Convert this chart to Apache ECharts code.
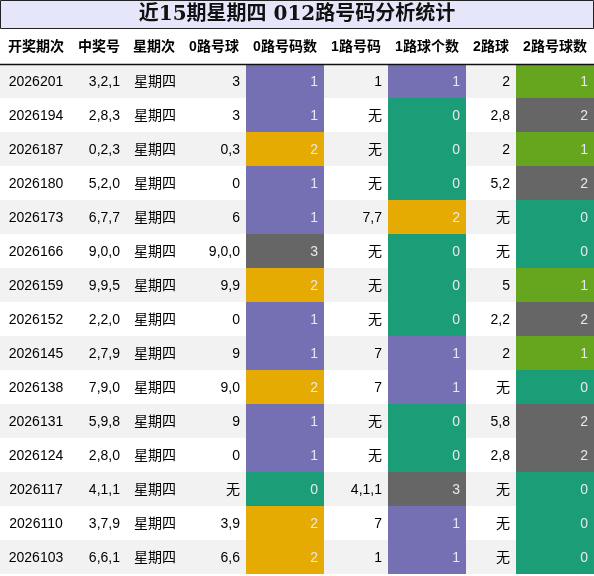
<!DOCTYPE html>
<html><head><meta charset="utf-8">
<script src="https://cdn.jsdelivr.net/npm/echarts@6/dist/echarts.min.js"></script>
<style>html,body{margin:0;padding:0;background:#fff}#c{width:594px;height:576px}</style>
</head><body><div id="c"></div>
<script>
const title = '近15期星期四 012路号码分析统计';
const headers = ['开奖期次','中奖号','星期次','0路号球','0路号码数','1路号码','1路球个数','2路球','2路号球数'];
const periods = ['2026201','2026194','2026187','2026180','2026173','2026166','2026159','2026152','2026145','2026138','2026131','2026124','2026117','2026110','2026103'];
const numbers = ['3,2,1','2,8,3','0,2,3','5,2,0','6,7,7','9,0,0','9,9,5','2,2,0','2,7,9','7,9,0','5,9,8','2,8,0','4,1,1','3,7,9','6,6,1'];
const weekday = '星期四';
const road0 = ['3','3','0,3','0','6','9,0,0','9,9','0','9','9,0','9','0','无','3,9','6,6'];
const road0Count = [1,1,2,1,1,3,2,1,1,2,1,1,0,2,2];
const road1 = ['1','无','无','无','7,7','无','无','无','7','7','无','无','4,1,1','7','1'];
const road1Count = [1,0,0,0,2,0,0,0,1,1,0,0,3,1,1];
const road2 = ['2','2,8','2','5,2','无','无','5','2,2','2','无','5,8','2,8','无','无','无'];
const road2Count = [1,2,1,2,0,0,1,2,1,0,2,2,0,0,0];

// layout
const colEdges = [0,72,126,182,246,324,388,466,516,594];
const colAlign = ['center','right','left','right','right','right','right','right','right'];
const countColorsA = ['#1b9e77','#7570b3','#e6ab02','#666666'];
const countColorsB = ['#1b9e77','#66a61e','#666666','#666666'];

const cells = [];
headers.forEach((h,c)=>cells.push({value:[c,0], text:h, header:true}));
for (let r=0;r<periods.length;r++){
  const row=[periods[r],numbers[r],weekday,road0[r],road0Count[r],road1[r],road1Count[r],road2[r],road2Count[r]];
  row.forEach((v,c)=>{
    let fill = (r%2===0)?'#f2f2f2':'#ffffff', color='#000';
    if (c===4) {fill=countColorsA[v]; color='#e8e8f0';}
    if (c===6) {fill=countColorsA[v]; color='#e8e8f0';}
    if (c===8) {fill=countColorsB[v]; color='#e8e8f0';}
    cells.push({value:[c,r+1], text:String(v), fill, color});
  });
}
const rowsCat = Array.from({length:16},(_,i)=>String(i));
const chart = echarts.init(document.getElementById('c'),null,{renderer:'canvas'});
chart.setOption({
  animation:false,
  grid:{left:0,right:0,top:30,height:544},
  xAxis:{type:'value',min:0,max:594,show:false},
  yAxis:{type:'category',data:rowsCat,inverse:true,show:false},
  graphic:[
    {type:'rect',shape:{x:0.5,y:0.5,width:593,height:28},style:{fill:'#e6e6fa',stroke:'#222',lineWidth:1}},
    {type:'text',x:297,y:15,style:{text:title,font:'bold 20px "DejaVu Serif","Noto Sans CJK SC",serif',fill:'#111',align:'center',verticalAlign:'middle'}},
    {type:'line',shape:{x1:0,y1:64.5,x2:594,y2:64.5},style:{stroke:'#111',lineWidth:1.5},z:100}
  ],
  series:[{
    type:'custom',
    data:cells,
    encode:{x:0,y:1},
    renderItem:function(params,api){
      const d=cells[params.dataIndex];
      const c=api.value(0), r=api.value(1);
      const p=api.coord([colEdges[c],r]);
      const p2=api.coord([colEdges[c+1],r]);
      const h=api.size([0,1])[1];
      const x=p[0], w=p2[0]-p[0], y=p[1]-h/2;
      let tx, align;
      if (d.header){ tx=x+w/2; align='center'; }
      else if (colAlign[c]==='center'){tx=x+w/2;align='center';}
      else if (colAlign[c]==='left'){tx=x+8;align='left';}
      else {tx=x+w-6;align='right';}
      return {type:'group',children:[
        {type:'rect',shape:{x:x,y:y,width:w,height:h},style:{fill:d.header?'#ffffff':d.fill}},
        {type:'text',x:tx,y:y+h/2+(d.header?0:1),style:{text:d.text,align:align,verticalAlign:'middle',
          font:(d.header?'bold ':'')+'14px "Liberation Sans","Noto Sans CJK SC",sans-serif',fill:d.header?'#000':d.color}}
      ]};
    }
  }]
});
</script></body></html>
